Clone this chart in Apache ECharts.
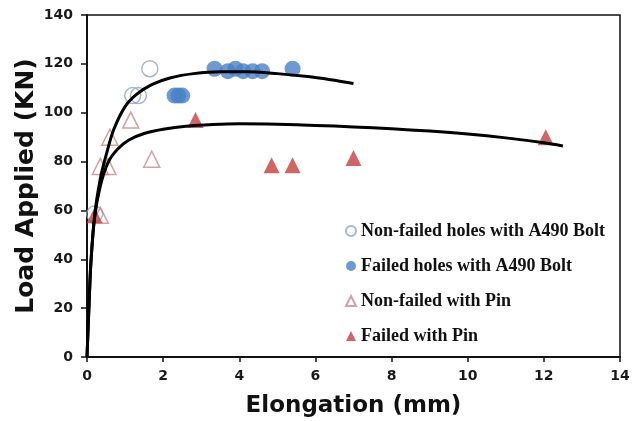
<!DOCTYPE html>
<html><head><meta charset="utf-8">
<script src="https://cdn.jsdelivr.net/npm/echarts@6/dist/echarts.min.js"></script>
<style>html,body{margin:0;padding:0;background:#fff}#c{width:632px;height:421px}</style>
</head><body><div id="c"></div>
<script>
// Data: [elongation mm, load kN]
const nonFailedHolesBolt = [[0.2,58.5],[1.2,107],[1.35,107],[1.65,118]];
const failedHolesBolt = [[2.3,107],[2.4,107],[2.5,107],[3.35,118],[3.7,117],[3.9,118],[4.1,117],[4.35,117],[4.6,117],[5.4,118]];
const nonFailedPin = [[0.35,58],[0.35,78],[0.55,78],[0.6,90],[1.15,97],[1.7,81]];
const failedPin = [[0.2,58],[2.85,97],[4.85,78.5],[5.4,78.5],[7.0,81.5],[12.05,90]];
// Trend curves
const upperCurve = [[0,0],[0.05,20],[0.1,38],[0.2,58],[0.35,73],[0.5,82.5],[0.7,93],[1.0,102.5],[1.3,107.5],[1.7,111.5],[2.2,114.3],[2.8,116],[3.5,116.8],[4.2,116.8],[5.0,116],[5.8,114.8],[6.4,113.5],[7.0,112]];
const lowerCurve = [[0,0],[0.05,20],[0.1,38],[0.2,57],[0.35,70],[0.55,79.5],[0.8,85],[1.1,88.8],[1.5,91.5],[2.0,93.2],[2.6,94.5],[3.3,95.2],[4.0,95.5],[5.0,95.3],[6.0,94.8],[7.0,94.2],[8.0,93.4],[9.0,92.5],[10.0,91.3],[11.0,89.7],[12.0,87.7],[12.5,86.4]];
const xTicks = {min:0,max:14,interval:2};
const yTicks = {min:0,max:140,interval:20};

const legendFont = {fontFamily:'Liberation Serif',fontWeight:'bold',fontSize:18,color:'#111'};
const tickFont = {fontFamily:'DejaVu Sans',fontWeight:'bold',fontSize:14,color:'#1a1a1a'};
const chart = echarts.init(document.getElementById('c'),null,{renderer:'canvas'});
chart.setOption({
  animation:false,
  backgroundColor:'#fff',
  grid:{left:87,right:12,top:15,bottom:64,show:true,borderColor:'#111',borderWidth:1.5,backgroundColor:'transparent',
    outerBoundsMode:'none',containLabel:false},
  legend:{
    orient:'vertical',left:340,top:217,itemGap:17,itemWidth:10,itemHeight:10,
    textStyle:legendFont,
    data:['Non-failed holes with A490 Bolt','Failed holes with A490 Bolt','Non-failed with Pin','Failed with Pin']
  },
  xAxis:{
    type:'value',min:xTicks.min,max:xTicks.max,interval:xTicks.interval,
    name:'Elongation (mm)',nameLocation:'middle',nameGap:38,nameMoveOverlap:false,
    nameTextStyle:{fontFamily:'DejaVu Sans',fontWeight:'bold',fontSize:23,color:'#111'},
    axisLine:{lineStyle:{color:'#111',width:2}},
    axisTick:{show:true,length:5,lineStyle:{color:'#111',width:1.5}},
    axisLabel:Object.assign({margin:12},tickFont),
    splitLine:{show:false}
  },
  yAxis:{
    type:'value',min:yTicks.min,max:yTicks.max,interval:yTicks.interval,
    name:'Load Applied (KN)',nameLocation:'middle',nameGap:48,nameRotate:90,nameMoveOverlap:false,
    nameTextStyle:{fontFamily:'DejaVu Sans',fontWeight:'bold',fontSize:25,color:'#111'},
    axisLine:{show:true,lineStyle:{color:'#111',width:2}},
    axisTick:{show:true,length:6,lineStyle:{color:'#111',width:1.5}},
    axisLabel:Object.assign({margin:14},tickFont),
    splitLine:{show:false}
  },
  series:[
    {name:'Non-failed holes with A490 Bolt',type:'scatter',data:nonFailedHolesBolt,symbol:'circle',symbolSize:16,
      itemStyle:{color:'rgba(255,255,255,0)',borderColor:'#8ea6c6',borderWidth:1.5},z:3},
    {name:'Failed holes with A490 Bolt',type:'scatter',data:failedHolesBolt,symbol:'circle',symbolSize:16,
      itemStyle:{color:'#4a7fc6'},z:3},
    {name:'Non-failed with Pin',type:'scatter',data:nonFailedPin,symbol:'triangle',symbolSize:16,
      itemStyle:{color:'rgba(255,255,255,0)',borderColor:'#c98a8a',borderWidth:1.5},z:3},
    {name:'Failed with Pin',type:'scatter',data:failedPin,symbol:'triangle',symbolSize:16,
      itemStyle:{color:'#c3403f'},z:3},
    {name:'upper',type:'line',data:upperCurve,smooth:0.3,showSymbol:false,symbol:'none',
      lineStyle:{color:'#000',width:3},z:5},
    {name:'lower',type:'line',data:lowerCurve,smooth:0.3,showSymbol:false,symbol:'none',
      lineStyle:{color:'#000',width:3},z:5}
  ]
});
</script></body></html>
